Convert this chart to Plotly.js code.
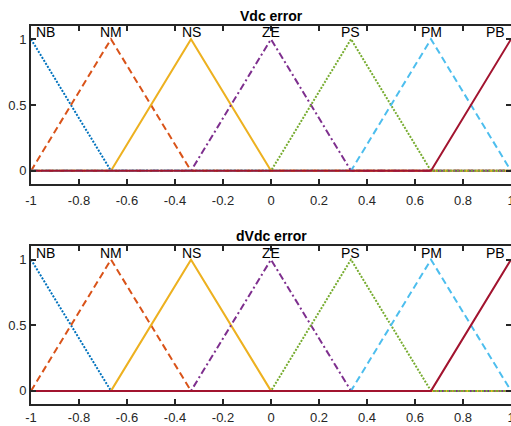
<!DOCTYPE html>
<html>
<head>
<meta charset="utf-8">
<script src="https://cdn.plot.ly/plotly-3.0.1.min.js"></script>
<style>html,body{margin:0;padding:0;background:#fff;}#chart{width:511px;height:426px;}</style>
</head>
<body>
<div id="chart"></div>
<script>
// Membership function names and peaks
const mfNames = ['NB', 'NM', 'NS', 'ZE', 'PS', 'PM', 'PB'];
const mfPeaks = [-1, -0.6667, -0.3333, 0, 0.3333, 0.6667, 1];

// Vertices of each triangular membership function over [-1, 1]
const xNB = [-1, -0.6667, 1];                 const yNB = [1, 0, 0];
const xNM = [-1, -0.6667, -0.3333, 1];        const yNM = [0, 1, 0, 0];
const xNS = [-1, -0.6667, -0.3333, 0, 1];     const yNS = [0, 0, 1, 0, 0];
const xZE = [-1, -0.3333, 0, 0.3333, 1];      const yZE = [0, 0, 1, 0, 0];
const xPS = [-1, 0, 0.3333, 0.6667, 1];       const yPS = [0, 0, 1, 0, 0];
const xPM = [-1, 0.3333, 0.6667, 1];          const yPM = [0, 0, 1, 0];
const xPB = [-1, 0.6667, 1];                  const yPB = [0, 0, 1];

const mfXs = [xNB, xNM, xNS, xZE, xPS, xPM, xPB];
const mfYs = [yNB, yNM, yNS, yZE, yPS, yPM, yPB];

const subplotTitles = ['Vdc error', 'dVdc error'];
const xTickVals = [-1, -0.8, -0.6, -0.4, -0.2, 0, 0.2, 0.4, 0.6, 0.8, 1];
const xTickText = ['-1', '-0.8', '-0.6', '-0.4', '-0.2', '0', '0.2', '0.4', '0.6', '0.8', '1'];
const yTickVals = [0, 0.5, 1];
const yTickText = ['0', '0.5', '1'];

// Styles
const colors = ['#0072BD', '#D95319', '#EDB120', '#7E2F8E', '#77AC30', '#4DBEEE', '#A2142F'];
const dashes = ['2px,1.5px', '7px,4px', 'solid', '7px,3px,2px,3px', '2px,1.5px', '7px,4px', 'solid'];
const FONT = 'Liberation Sans, Arial, Helvetica, sans-serif';
const AXC = '#262626';

const traces = [];
const annotations = [];
['', '2'].forEach((s, k) => {
  mfNames.forEach((name, i) => {
    traces.push({
      x: mfXs[i], y: mfYs[i], type: 'scatter', mode: 'lines',
      xaxis: 'x' + s, yaxis: 'y' + s,
      line: {color: colors[i], width: 2, dash: dashes[i]},
      hoverinfo: 'skip'
    });
    const last = i === mfNames.length - 1;
    annotations.push({
      x: mfPeaks[i], y: 1, xref: 'x' + s, yref: 'y' + s,
      text: name, showarrow: false,
      xanchor: i === 0 ? 'left' : (last ? 'right' : 'center'),
      yanchor: 'bottom',
      xshift: i === 0 ? 3 : (last ? -4 : 0), yshift: -3,
      font: {family: FONT, size: 14, color: '#000'}
    });
  });
  annotations.push({
    x: 0, y: 1.1, xref: 'x' + s, yref: 'y' + s,
    text: '<b>' + subplotTitles[k] + '</b>', showarrow: false,
    xanchor: 'center', yanchor: 'bottom', yshift: 0,
    font: {family: FONT, size: 14, color: '#000'}
  });
});

function xAxis(anchor, standoff) {
  return {
    anchor: anchor, domain: [0, 1], range: [-1, 1],
    tickmode: 'array', tickvals: xTickVals, ticktext: xTickText,
    ticks: 'inside', ticklen: 5, tickwidth: 2, tickcolor: AXC,
    showline: true, linewidth: 2, linecolor: AXC, mirror: 'allticks',
    showgrid: false, zeroline: false, ticklabeloverflow: 'allow',
    ticklabelstandoff: standoff,
    tickfont: {family: FONT, size: 13, color: AXC}
  };
}
function yAxis(anchor, dom) {
  return {
    anchor: anchor, domain: dom, range: [-0.1, 1.1],
    tickmode: 'array', tickvals: yTickVals, ticktext: yTickText,
    ticks: 'inside', ticklen: 5, tickwidth: 2, tickcolor: AXC,
    showline: true, linewidth: 2, linecolor: AXC, mirror: 'allticks',
    showgrid: false, zeroline: false, ticklabeloverflow: 'allow',
    tickfont: {family: FONT, size: 13, color: AXC}
  };
}

const layout = {
  width: 511, height: 426,
  margin: {l: 31, r: 0, t: 0, b: 0},
  paper_bgcolor: '#fff', plot_bgcolor: '#fff',
  showlegend: false,
  xaxis: xAxis('y', 3), yaxis: yAxis('x', [0.568, 0.939]),
  xaxis2: xAxis('y2', 0), yaxis2: yAxis('x2', [0.0516, 0.4214]),
  annotations: annotations
};

Plotly.newPlot('chart', traces, layout, {staticPlot: true, displayModeBar: false});
</script>
</body>
</html>
